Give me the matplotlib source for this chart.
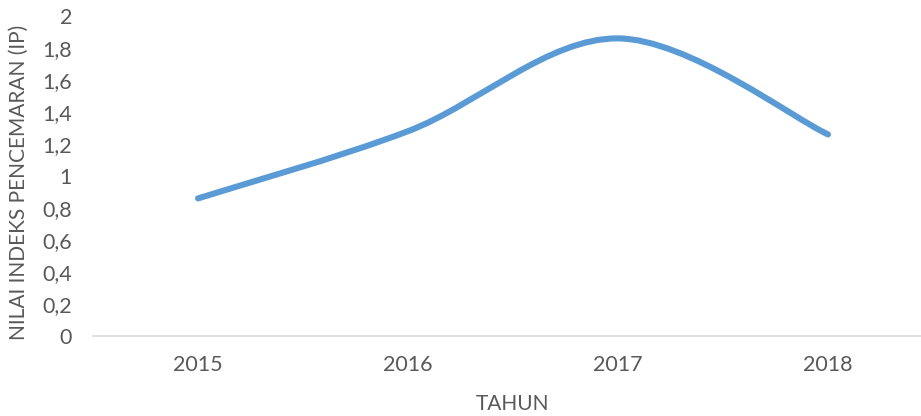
import matplotlib
matplotlib.use('Agg')
import matplotlib.pyplot as plt
from matplotlib.path import Path
from matplotlib.patches import PathPatch

# data
years = ['2015', '2016', '2017', '2018']
ip_values = [0.86, 1.28, 1.86, 1.26]
y_ticks = [0, 0.2, 0.4, 0.6, 0.8, 1.0, 1.2, 1.4, 1.6, 1.8, 2.0]

plt.rcParams['font.family'] = ['Lato', 'DejaVu Sans']

fig = plt.figure(figsize=(9.21, 4.16), dpi=100)
ax = fig.add_axes([93 / 921, 80 / 416, 1 - 93 / 921, 320 / 416])

# smoothed line like Excel (bezier segments through the points)
xs = list(range(len(years)))
pts = list(zip(xs, ip_values))
verts = [pts[0]]
codes = [Path.MOVETO]
for i in range(len(pts) - 1):
    p0 = pts[i - 1] if i > 0 else pts[i]
    p1 = pts[i]
    p2 = pts[i + 1]
    p3 = pts[i + 2] if i + 2 < len(pts) else pts[i + 1]
    c1 = (p1[0] + (p2[0] - p0[0]) / 6, p1[1] + (p2[1] - p0[1]) / 6)
    c2 = (p2[0] - (p3[0] - p1[0]) / 6, p2[1] - (p3[1] - p1[1]) / 6)
    verts += [c1, c2, p2]
    codes += [Path.CURVE4] * 3
patch = PathPatch(Path(verts, codes), facecolor='none', edgecolor='#5B9BD5',
                  linewidth=4.4, capstyle='round', joinstyle='round')
ax.add_patch(patch)

ax.set_xlim(-0.5, -0.5 + (921 - 93) / 210)
ax.set_ylim(0, 2)
ax.set_xticks(xs)
ax.set_xticklabels(years)
ax.set_yticks(y_ticks)
ax.set_yticklabels([('%g' % v).replace('.', ',') for v in y_ticks])

for s in ['top', 'right', 'left']:
    ax.spines[s].set_visible(False)
ax.spines['bottom'].set_color('#D9D9D9')
ax.spines['bottom'].set_linewidth(1.2)
ax.tick_params(axis='both', length=0, labelsize=15.5, colors='#595959')
ax.tick_params(axis='x', pad=14)
ax.tick_params(axis='y', pad=15)

ax.set_xlabel('TAHUN', fontsize=15, color='#595959', va='center')
ax.xaxis.set_label_coords((512 - 93) / (921 - 93), (336 - 404) / 320)
ax.set_ylabel('NILAI INDEKS PENCEMARAN (IP)', fontsize=15, color='#595959',
              va='center')
ax.yaxis.set_label_coords(-(93 - 19) / (921 - 93), (336 - 182) / 320)

fig.savefig('out.png', dpi=100)
